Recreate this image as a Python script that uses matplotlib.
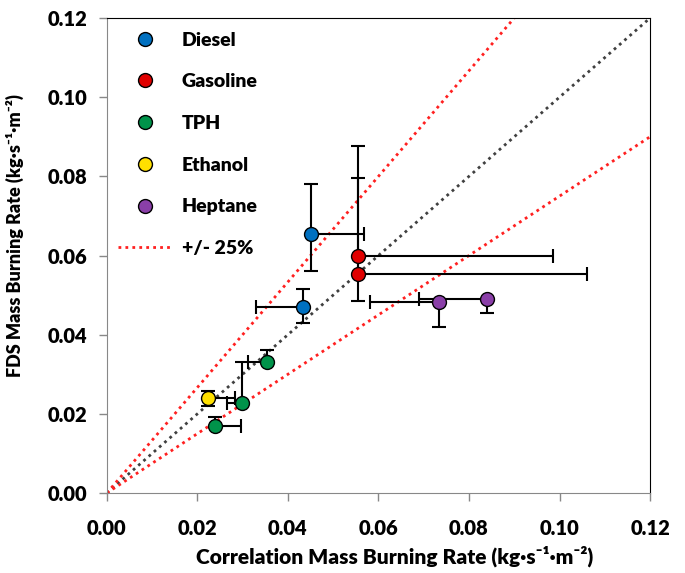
import matplotlib.pyplot as plt
import numpy as np

plt.rcParams['font.family'] = ['Lato', 'DejaVu Sans']

# correlation (x) vs FDS (y) mass burning rate, with asymmetric error ends
fuels = ['Diesel', 'Gasoline', 'TPH', 'Ethanol', 'Heptane']
colors = ['#0070C0', '#E00000', '#00934A', '#FFE000', '#8A3FA8']

x_vals = {
    'Diesel': [0.0451, 0.0433],
    'Gasoline': [0.0555, 0.0555],
    'TPH': [0.0354, 0.0298, 0.0239],
    'Ethanol': [0.0223],
    'Heptane': [0.0734, 0.0840],
}
y_vals = {
    'Diesel': [0.0654, 0.0470],
    'Gasoline': [0.0599, 0.0553],
    'TPH': [0.0331, 0.0227, 0.0169],
    'Ethanol': [0.0240],
    'Heptane': [0.0483, 0.0490],
}
# error bar ends: (x_low, x_high), (y_low, y_high)
x_ends = {
    'Diesel': [(0.0451, 0.0568), (0.0329, 0.0433)],
    'Gasoline': [(0.0555, 0.0986), (0.0555, 0.1060)],
    'TPH': [(0.0312, 0.0354), (0.0265, 0.0298), (0.0239, 0.0296)],
    'Ethanol': [(0.0223, 0.0283)],
    'Heptane': [(0.0581, 0.0734), (0.0690, 0.0840)],
}
y_ends = {
    'Diesel': [(0.0561, 0.0781), (0.0430, 0.0515)],
    'Gasoline': [(0.0553, 0.0877), (0.0485, 0.0796)],
    'TPH': [(0.0331, 0.0361), (0.0227, 0.0331), (0.0169, 0.0192)],
    'Ethanol': [(0.0220, 0.0258)],
    'Heptane': [(0.0420, 0.0483), (0.0455, 0.0490)],
}

fig = plt.figure(figsize=(6.85, 5.73), dpi=100)
ax = fig.add_axes([0.156, 0.1396, 0.793, 0.829])

# reference lines
xs = np.array([0, 0.12])
ax.plot(xs, xs, color='#404040', linestyle=(0, (1, 1.5)), linewidth=2, zorder=1)
ax.plot(xs, xs / 0.75, color='#FF2020', linestyle=(0, (1, 1.5)), linewidth=2, zorder=1)
ax.plot(xs, xs * 0.75, color='#FF2020', linestyle=(0, (1, 1.5)), linewidth=2, zorder=1,
        label='+/- 25%')

for fuel, c in zip(fuels, colors):
    xv = np.array(x_vals[fuel])
    yv = np.array(y_vals[fuel])
    xe = np.array([[xv[i] - lo, hi - xv[i]] for i, (lo, hi) in enumerate(x_ends[fuel])]).T
    ye = np.array([[yv[i] - lo, hi - yv[i]] for i, (lo, hi) in enumerate(y_ends[fuel])]).T
    ax.errorbar(xv, yv, xerr=xe, yerr=ye, fmt='none', ecolor='black', elinewidth=1.5,
                capsize=5, capthick=1.5, zorder=2)
    ax.plot(xv, yv, 'o', color=c, markeredgecolor='black', markeredgewidth=1,
            markersize=10, linestyle='none', label=fuel, zorder=3)

ax.set_xlim(0, 0.12)
ax.set_ylim(0, 0.12)
ticks = np.arange(0, 0.121, 0.02)
ax.set_xticks(ticks)
ax.set_yticks(ticks)
ax.set_xticklabels([f'{t:.2f}' for t in ticks], fontsize=14.5, fontweight='heavy')
ax.set_yticklabels([f'{t:.2f}' for t in ticks], fontsize=14.5, fontweight='heavy')
ax.tick_params(axis='both', direction='out', length=6, color='#888888', width=1)
ax.tick_params(axis='x', pad=13)
ax.tick_params(axis='y', pad=8)
for s in ['left', 'bottom']:
    ax.spines[s].set_color('#888888')
for s in ['top', 'right']:
    ax.spines[s].set_color('black')

ax.set_xlabel('Correlation Mass Burning Rate (kg·s⁻¹·m⁻²)', fontsize=15,
              fontweight='heavy')
ax.set_ylabel('FDS Mass Burning Rate (kg·s⁻¹·m⁻²)', fontsize=13,
              fontweight='heavy')
ax.xaxis.set_label_coords(0.529, -0.11)
ax.yaxis.set_label_coords(-0.153, 0.543)

handles, labels = ax.get_legend_handles_labels()
order = [labels.index(f) for f in fuels] + [labels.index('+/- 25%')]
ax.legend([handles[i] for i in order], [labels[i] for i in order], loc='upper left',
          frameon=False, prop={'size': 14, 'weight': 'heavy'}, labelspacing=1.27,
          handlelength=2.8, handletextpad=0.5, borderaxespad=0.3, bbox_to_anchor=(-0.005, 1.0))

fig.savefig('out.png', dpi=100)
